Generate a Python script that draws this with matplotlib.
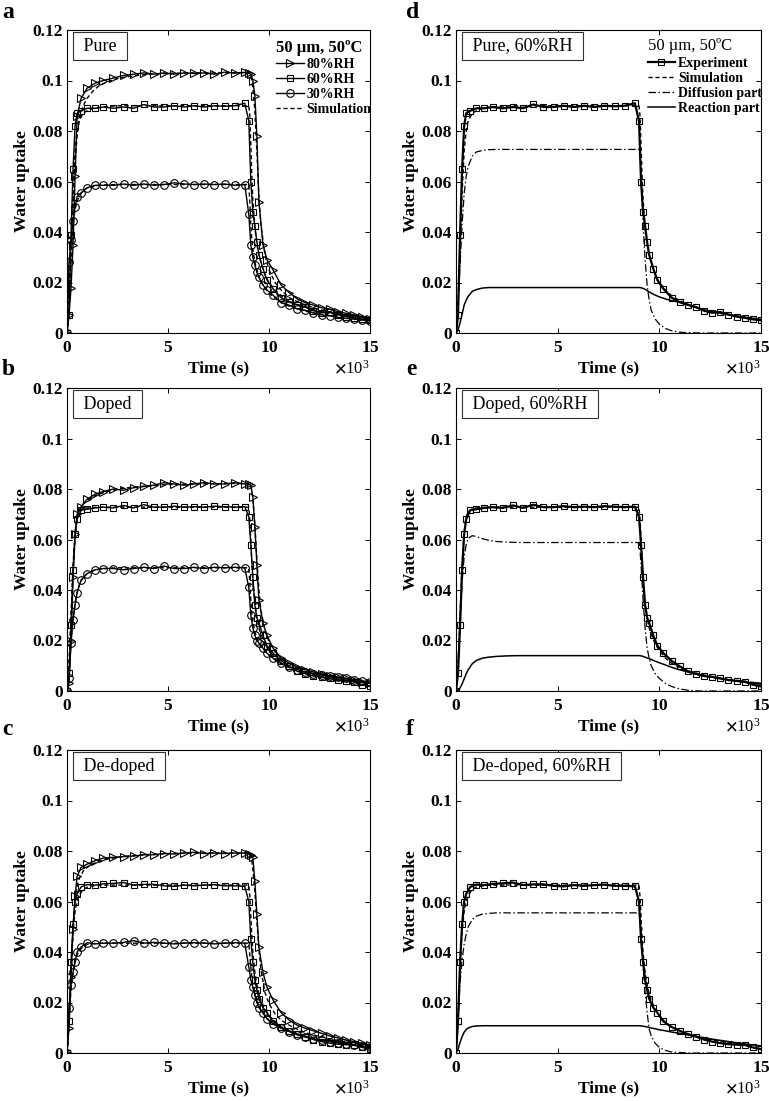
import matplotlib
matplotlib.use("Agg")
import matplotlib.pyplot as plt
from matplotlib.ticker import ScalarFormatter, FuncFormatter
import numpy as np

# ---------------- data (time in 10^3 s) ----------------
T_EXP = [0, 0.1, 0.2, 0.3, 0.4, 0.5, 0.7,
         1.0, 1.4, 1.8,
         2.3, 2.8, 3.3, 3.8, 4.3, 4.8, 5.3, 5.8, 6.3, 6.8, 7.3, 7.8, 8.3, 8.8,
         9.0, 9.1, 9.2, 9.3, 9.4, 9.5, 9.7, 9.9,
         10.2, 10.6, 11.0, 11.4, 11.8, 12.2, 12.6, 13.0, 13.4, 13.8, 14.2, 14.6, 15.0]

T_SIM = [0, 0.1, 0.2, 0.3, 0.4, 0.5, 0.6,
         0.8, 1.0, 1.3, 1.6,
         2.0, 2.5, 3.0,
         4.0, 5.0, 6.0, 7.0, 8.0, 9.0,
         9.05, 9.1, 9.15, 9.2,
         9.3, 9.4, 9.5, 9.6, 9.8,
         10.0, 10.3, 10.6,
         11.0, 11.5, 12.0, 12.5, 13.0, 13.5, 14.0, 14.5, 15.0]

# Pure
PURE_80 = [0.000, 0.007, 0.018, 0.035, 0.062, 0.086, 0.093,
           0.097, 0.099, 0.100,
           0.1010, 0.1020, 0.1025, 0.1030, 0.1025, 0.1030, 0.1025, 0.1030, 0.1028, 0.1030, 0.1025, 0.1033, 0.1030, 0.1032,
           0.1030, 0.1025, 0.1000, 0.0940, 0.0780, 0.0520, 0.0350, 0.0290,
           0.0250, 0.0190, 0.0160, 0.0135, 0.0120, 0.0110, 0.0100, 0.0095, 0.0085, 0.0078, 0.0072, 0.0065, 0.0055]
PURE_60 = [0.000, 0.007, 0.039, 0.065, 0.082, 0.087, 0.088,
           0.0890, 0.0890, 0.0895,
           0.0890, 0.0895, 0.0890, 0.0905, 0.0895, 0.0895, 0.0900, 0.0895, 0.0900, 0.0895, 0.0900, 0.0898, 0.0900, 0.0910,
           0.0840, 0.0600, 0.0480, 0.0424, 0.0360, 0.0310, 0.0255, 0.0210,
           0.0175, 0.0140, 0.0122, 0.0112, 0.0103, 0.0088, 0.0080, 0.0083, 0.0073, 0.0065, 0.0060, 0.0054, 0.0050]
PURE_30 = [0.000, 0.028, 0.037, 0.0445, 0.050, 0.054, 0.0555,
           0.0575, 0.0585, 0.0585,
           0.0585, 0.0590, 0.0585, 0.0590, 0.0585, 0.0588, 0.0595, 0.0590, 0.0588, 0.0590, 0.0588, 0.0590, 0.0585, 0.0588,
           0.0470, 0.0350, 0.0300, 0.0270, 0.0240, 0.0220, 0.0190, 0.0170,
           0.0150, 0.0120, 0.0110, 0.0095, 0.0090, 0.0080, 0.0072, 0.0068, 0.0062, 0.0058, 0.0055, 0.0052, 0.0048]
SIM_PURE_80 = [0.000, 0.012, 0.030, 0.050, 0.068, 0.078, 0.084,
               0.090, 0.093, 0.096, 0.098,
               0.0995, 0.1008, 0.1015,
               0.1025, 0.1028, 0.1030, 0.1030, 0.1030, 0.1030,
               0.1028, 0.1020, 0.1000, 0.0970,
               0.0880, 0.0720, 0.0540, 0.0430, 0.0310,
               0.0250, 0.0200, 0.0170,
               0.0140, 0.0120, 0.0105, 0.0093, 0.0083, 0.0075, 0.0068, 0.0062, 0.0057]
SIM_PURE_60 = [0.000, 0.012, 0.032, 0.055, 0.072, 0.080, 0.084,
               0.087, 0.088, 0.089, 0.0893,
               0.0897, 0.0900, 0.0900,
               0.0900, 0.0900, 0.0900, 0.0900, 0.0900, 0.0900,
               0.0860, 0.0750, 0.0620, 0.0530,
               0.0420, 0.0350, 0.0310, 0.0280, 0.0230,
               0.0200, 0.0170, 0.0148,
               0.0128, 0.0110, 0.0097, 0.0087, 0.0079, 0.0072, 0.0066, 0.0060, 0.0055]
SIM_PURE_30 = [0.000, 0.020, 0.034, 0.043, 0.049, 0.052, 0.054,
               0.0565, 0.0575, 0.0580, 0.0585,
               0.0587, 0.0588, 0.0588,
               0.0588, 0.0588, 0.0588, 0.0588, 0.0588, 0.0588,
               0.0520, 0.0430, 0.0370, 0.0330,
               0.0280, 0.0250, 0.0225, 0.0205, 0.0178,
               0.0158, 0.0137, 0.0121,
               0.0106, 0.0093, 0.0083, 0.0075, 0.0069, 0.0063, 0.0058, 0.0054, 0.0050]

# Doped
DOPED_80 = [0.000, 0.003, 0.020, 0.045, 0.062, 0.070, 0.073,
            0.076, 0.078, 0.079,
            0.0800, 0.0795, 0.0805, 0.0810, 0.0815, 0.0825, 0.0820, 0.0815, 0.0820, 0.0825, 0.0820, 0.0820, 0.0825, 0.0820,
            0.0820, 0.0815, 0.0770, 0.0650, 0.0500, 0.0360, 0.0270, 0.0220,
            0.0170, 0.0130, 0.0110, 0.0095, 0.0085, 0.0075, 0.0068, 0.0060, 0.0055, 0.0050, 0.0042, 0.0035, 0.0030]
DOPED_60 = [0.000, 0.007, 0.026, 0.048, 0.062, 0.068, 0.0716,
            0.0720, 0.0725, 0.0728,
            0.0725, 0.0735, 0.0725, 0.0738, 0.0728, 0.0728, 0.0732, 0.0728, 0.0730, 0.0728, 0.0732, 0.0730, 0.0728, 0.0730,
            0.0690, 0.0580, 0.0450, 0.0340, 0.0290, 0.0270, 0.0220, 0.0180,
            0.0150, 0.0120, 0.0098, 0.0078, 0.0068, 0.0059, 0.0056, 0.0050, 0.0043, 0.0040, 0.0037, 0.0025, 0.0018]
DOPED_30 = [0.000, 0.005, 0.019, 0.028, 0.034, 0.039, 0.044,
            0.0465, 0.0480, 0.0485,
            0.0485, 0.0480, 0.0485, 0.0490, 0.0485, 0.0495, 0.0485, 0.0485, 0.0490, 0.0485, 0.0490, 0.0488, 0.0490, 0.0488,
            0.0410, 0.0300, 0.0250, 0.0220, 0.0200, 0.0190, 0.0170, 0.0150,
            0.0130, 0.0110, 0.0095, 0.0085, 0.0075, 0.0068, 0.0065, 0.0060, 0.0055, 0.0050, 0.0045, 0.0040, 0.0035]
SIM_DOPED_80 = [0.000, 0.010, 0.028, 0.047, 0.061, 0.068, 0.071,
                0.074, 0.0755, 0.077, 0.078,
                0.0790, 0.0800, 0.0805,
                0.0812, 0.0818, 0.0820, 0.0820, 0.0822, 0.0822,
                0.0820, 0.0810, 0.0790, 0.0760,
                0.0660, 0.0520, 0.0400, 0.0320, 0.0240,
                0.0195, 0.0155, 0.0130,
                0.0110, 0.0092, 0.0078, 0.0067, 0.0058, 0.0050, 0.0044, 0.0038, 0.0033]
SIM_DOPED_60 = [0.000, 0.010, 0.030, 0.050, 0.063, 0.069, 0.071,
                0.0722, 0.0725, 0.0727, 0.0728,
                0.0728, 0.0728, 0.0728,
                0.0728, 0.0728, 0.0728, 0.0728, 0.0728, 0.0728,
                0.0680, 0.0600, 0.0510, 0.0440,
                0.0350, 0.0290, 0.0250, 0.0225, 0.0185,
                0.0160, 0.0130, 0.0110,
                0.0093, 0.0078, 0.0067, 0.0058, 0.0051, 0.0045, 0.0040, 0.0035, 0.0031]
SIM_DOPED_30 = [0.000, 0.009, 0.021, 0.029, 0.035, 0.039, 0.042,
                0.0450, 0.0465, 0.0477, 0.0483,
                0.0486, 0.0488, 0.0488,
                0.0488, 0.0488, 0.0488, 0.0488, 0.0488, 0.0488,
                0.0430, 0.0360, 0.0310, 0.0275,
                0.0235, 0.0210, 0.0193, 0.0180, 0.0158,
                0.0142, 0.0123, 0.0108,
                0.0093, 0.0079, 0.0069, 0.0060, 0.0054, 0.0048, 0.0043, 0.0038, 0.0034]

# De-doped
DEDOPED_80 = [0.000, 0.010, 0.030, 0.049, 0.062, 0.070, 0.0735,
              0.0748, 0.0762, 0.0772,
              0.0775, 0.0778, 0.0780, 0.0785, 0.0785, 0.0790, 0.0788, 0.0792, 0.0795, 0.0790, 0.0792, 0.0790, 0.0792, 0.0792,
              0.0790, 0.0785, 0.0776, 0.0680, 0.0550, 0.0420, 0.0320, 0.0260,
              0.0210, 0.0160, 0.0130, 0.0110, 0.0098, 0.0088, 0.0078, 0.0068, 0.0060, 0.0052, 0.0045, 0.0038, 0.0032]
DEDOPED_60 = [0.000, 0.0125, 0.036, 0.051, 0.060, 0.063, 0.0658,
              0.0667, 0.0665, 0.0670,
              0.0672, 0.0675, 0.0665, 0.0668, 0.0668, 0.0662, 0.0660, 0.0665, 0.0662, 0.0665, 0.0667, 0.0662, 0.0662, 0.0660,
              0.0600, 0.0450, 0.0360, 0.0290, 0.0250, 0.0215, 0.0180, 0.0160,
              0.0125, 0.0103, 0.0088, 0.0075, 0.0065, 0.0053, 0.0045, 0.0039, 0.0035, 0.0033, 0.0032, 0.0022, 0.0015]
DEDOPED_30 = [0.000, 0.018, 0.027, 0.032, 0.036, 0.040, 0.042,
              0.0437, 0.0432, 0.0435,
              0.0435, 0.0438, 0.0445, 0.0435, 0.0438, 0.0435, 0.0432, 0.0435, 0.0437, 0.0435, 0.0432, 0.0435, 0.0437, 0.0435,
              0.0340, 0.0290, 0.0260, 0.0230, 0.0200, 0.0180, 0.0160, 0.0135,
              0.0115, 0.0098, 0.0085, 0.0072, 0.0063, 0.0056, 0.0050, 0.0045, 0.0040, 0.0035, 0.0030, 0.0026, 0.0022]
SIM_DEDOPED_80 = [0.000, 0.012, 0.032, 0.049, 0.060, 0.066, 0.069,
                  0.0720, 0.0735, 0.0750, 0.0760,
                  0.0768, 0.0775, 0.0780,
                  0.0786, 0.0790, 0.0792, 0.0792, 0.0792, 0.0792,
                  0.0790, 0.0780, 0.0760, 0.0730,
                  0.0640, 0.0520, 0.0410, 0.0330, 0.0240,
                  0.0195, 0.0155, 0.0130,
                  0.0110, 0.0090, 0.0076, 0.0065, 0.0056, 0.0048, 0.0041, 0.0035, 0.0030]
SIM_DEDOPED_60 = [0.000, 0.014, 0.034, 0.048, 0.056, 0.060, 0.0625,
                  0.0647, 0.0657, 0.0662, 0.0664,
                  0.0665, 0.0665, 0.0665,
                  0.0665, 0.0665, 0.0665, 0.0665, 0.0665, 0.0665,
                  0.0620, 0.0540, 0.0460, 0.0400,
                  0.0320, 0.0270, 0.0235, 0.0210, 0.0172,
                  0.0148, 0.0122, 0.0104,
                  0.0088, 0.0073, 0.0062, 0.0053, 0.0046, 0.0040, 0.0035, 0.0030, 0.0026]
SIM_DEDOPED_30 = [0.000, 0.013, 0.025, 0.032, 0.036, 0.039, 0.0405,
                  0.0422, 0.0430, 0.0433, 0.0435,
                  0.0435, 0.0435, 0.0435,
                  0.0435, 0.0435, 0.0435, 0.0435, 0.0435, 0.0435,
                  0.0390, 0.0340, 0.0300, 0.0270,
                  0.0230, 0.0205, 0.0185, 0.0170, 0.0148,
                  0.0130, 0.0112, 0.0098,
                  0.0084, 0.0071, 0.0061, 0.0053, 0.0046, 0.0040, 0.0035, 0.0031, 0.0027]

# Diffusion / reaction parts (60%RH)
DIFF_PURE = [0.000, 0.010, 0.027, 0.043, 0.055, 0.062, 0.066,
             0.0700, 0.0717, 0.0723, 0.0726,
             0.0727, 0.0727, 0.0727,
             0.0727, 0.0727, 0.0727, 0.0727, 0.0727, 0.0727,
             0.0700, 0.0620, 0.0520, 0.0430,
             0.0290, 0.0190, 0.0130, 0.0090, 0.0055,
             0.0035, 0.0018, 0.0009,
             0.0003, 0.0001, 0.0000, 0.0000, 0.0000, 0.0000, 0.0000, 0.0000, 0.0000]
REACT_PURE = [0.000, 0.0012, 0.0040, 0.0075, 0.0110, 0.0130, 0.0145,
              0.0165, 0.0172, 0.0178, 0.0180,
              0.0180, 0.0180, 0.0180,
              0.0180, 0.0180, 0.0180, 0.0180, 0.0180, 0.0180,
              0.0180, 0.0179, 0.0178, 0.0177,
              0.0173, 0.0168, 0.0163, 0.0158, 0.0150,
              0.0143, 0.0135, 0.0128,
              0.0122, 0.0108, 0.0096, 0.0086, 0.0078, 0.0071, 0.0065, 0.0059, 0.0054]
DIFF_DOPED = [0.000, 0.010, 0.027, 0.043, 0.053, 0.058, 0.0605,
              0.0615, 0.0612, 0.0603, 0.0597,
              0.0592, 0.0590, 0.0588,
              0.0588, 0.0588, 0.0588, 0.0588, 0.0588, 0.0588,
              0.0560, 0.0500, 0.0430, 0.0360,
              0.0250, 0.0170, 0.0130, 0.0100, 0.0068,
              0.0050, 0.0030, 0.0018,
              0.0008, 0.0002, 0.0000, 0.0000, 0.0000, 0.0000, 0.0000, 0.0000, 0.0000]
REACT_DOPED = [0.000, 0.0003, 0.0012, 0.0028, 0.0048, 0.0068, 0.0084,
               0.0108, 0.0121, 0.0130, 0.0134,
               0.0137, 0.0139, 0.0140,
               0.0140, 0.0140, 0.0140, 0.0140, 0.0140, 0.0140,
               0.0140, 0.0139, 0.0138, 0.0137,
               0.0134, 0.0131, 0.0128, 0.0125, 0.0118,
               0.0112, 0.0103, 0.0094,
               0.0084, 0.0073, 0.0064, 0.0056, 0.0049, 0.0043, 0.0037, 0.0032, 0.0027]
DIFF_DEDOPED = [0.000, 0.013, 0.028, 0.037, 0.043, 0.047, 0.050,
                0.0528, 0.0542, 0.0550, 0.0553,
                0.0555, 0.0555, 0.0555,
                0.0555, 0.0555, 0.0555, 0.0555, 0.0555, 0.0555,
                0.0530, 0.0470, 0.0400, 0.0340,
                0.0240, 0.0160, 0.0095, 0.0068, 0.0038,
                0.0022, 0.0010, 0.0004,
                0.0002, 0.0000, 0.0000, 0.0000, 0.0000, 0.0000, 0.0000, 0.0000, 0.0000]
REACT_DEDOPED = [0.000, 0.0015, 0.0042, 0.0065, 0.0082, 0.0093, 0.0099,
                 0.0105, 0.0107, 0.0108, 0.0108,
                 0.0108, 0.0108, 0.0108,
                 0.0108, 0.0108, 0.0108, 0.0108, 0.0108, 0.0108,
                 0.0108, 0.0107, 0.0107, 0.0106,
                 0.0105, 0.0103, 0.0101, 0.0099, 0.0096,
                 0.0092, 0.0088, 0.0083,
                 0.0078, 0.0070, 0.0063, 0.0056, 0.0050, 0.0044, 0.0038, 0.0033, 0.0028]

X_TICKS = [0, 5000, 10000, 15000]
Y_TICKS = [0, 0.02, 0.04, 0.06, 0.08, 0.1, 0.12]
RH_LABELS = ["80%RH", "60%RH", "30%RH"]
PART_LABELS = ["Experiment", "Simulation", "Diffusion part", "Reaction part"]
CONDITION = "50 µm, 50ºC"

# ---------------- style ----------------
plt.rcParams["font.family"] = ["Liberation Serif", "DejaVu Serif"]
plt.rcParams["mathtext.fontset"] = "stix"
plt.rcParams["font.weight"] = "bold"
plt.rcParams["axes.labelweight"] = "bold"

DASH = (0, (3, 2))
DASHDOT = (0, (6, 2, 1.2, 2))
MK = dict(mfc="none", mec="black", mew=0.8)

fig = plt.figure(figsize=(7.69, 11.01), dpi=100)
W, H = 769.0, 1101.0


def make_ax(left, top, width=303, height=303):
    return fig.add_axes([left / W, 1 - (top + height) / H, width / W, height / H])


def style_ax(ax, label):
    ax.set_xlim(0, 15000)
    ax.set_ylim(0, 0.12)
    ax.set_xticks(X_TICKS)
    ax.set_yticks(Y_TICKS)
    fmt = ScalarFormatter(useMathText=True)
    fmt.set_powerlimits((3, 3))
    ax.xaxis.set_major_formatter(fmt)
    ax.yaxis.set_major_formatter(FuncFormatter(lambda v, p: "%g" % round(v, 4)))
    ax.tick_params(direction="in", top=True, right=True, length=3.5, width=0.7,
                   labelsize=12.5)
    ax.tick_params(axis="x", pad=5)
    ax.tick_params(axis="y", pad=3)
    ax.xaxis.get_offset_text().set_fontsize(12)
    ax.xaxis.get_offset_text().set_fontweight("normal")
    for s in ax.spines.values():
        s.set_linewidth(0.8)
    ax.set_xlabel("Time (s)", fontsize=12.5, fontweight="bold", labelpad=3)
    ax.set_ylabel("Water uptake", fontsize=12.5, fontweight="bold", labelpad=2)
    ax.text(0.04, 0.975, " " + label + " ", transform=ax.transAxes, ha="left", va="top",
            fontsize=13, fontweight="normal",
            bbox=dict(boxstyle="square,pad=0.32", fc="white", ec="#333333", lw=0.8))


def ts(t):
    return [v * 1000 for v in t]


left_panels = [
    ("Pure", PURE_80, PURE_60, PURE_30, SIM_PURE_80, SIM_PURE_60, SIM_PURE_30),
    ("Doped", DOPED_80, DOPED_60, DOPED_30, SIM_DOPED_80, SIM_DOPED_60, SIM_DOPED_30),
    ("De-doped", DEDOPED_80, DEDOPED_60, DEDOPED_30, SIM_DEDOPED_80, SIM_DEDOPED_60, SIM_DEDOPED_30),
]
right_panels = [
    ("Pure, 60%RH", PURE_60, SIM_PURE_60, DIFF_PURE, REACT_PURE),
    ("Doped, 60%RH", DOPED_60, SIM_DOPED_60, DIFF_DOPED, REACT_DOPED),
    ("De-doped, 60%RH", DEDOPED_60, SIM_DEDOPED_60, DIFF_DEDOPED, REACT_DEDOPED),
]
tops = [30, 388, 750]
letters_l = ["a", "b", "c"]
letters_r = ["d", "e", "f"]
baselines = [18, 375, 735]

for i, (lab, e80, e60, e30, s80, s60, s30) in enumerate(left_panels):
    ax = make_ax(67, tops[i])
    ls80, = ax.plot(ts(T_SIM), s80, color="black", ls=DASH, lw=1.0)
    ax.plot(ts(T_SIM), s60, color="black", ls=DASH, lw=1.0)
    ax.plot(ts(T_SIM), s30, color="black", ls=DASH, lw=1.0)
    l80, = ax.plot(ts(T_EXP), e80, color="black", lw=1.0, marker=">", ms=5.5, **MK)
    l60, = ax.plot(ts(T_EXP), e60, color="black", lw=1.0, marker="s", ms=4.5, **MK)
    l30, = ax.plot(ts(T_EXP), e30, color="black", lw=1.0, marker="o", ms=5.5, **MK)
    style_ax(ax, lab)
    if i == 0:
        ax.legend([l80, l60, l30, ls80], RH_LABELS + ["Simulation"],
                  loc="upper left", bbox_to_anchor=(0.69, 0.968), frameon=False,
                  title=CONDITION, alignment="left", fontsize=10,
                  title_fontproperties={"size": 12, "weight": "bold"},
                  handlelength=2.0, handletextpad=0.2, labelspacing=0.15,
                  borderpad=0, borderaxespad=0)
    fig.text(2 / W, 1 - baselines[i] / H, letters_l[i], fontsize=17, fontweight="bold",
             va="baseline", ha="left")

for i, (lab, e60, s60, dif, rea) in enumerate(right_panels):
    ax = make_ax(456, tops[i], width=305)
    lr, = ax.plot(ts(T_SIM), rea, color="black", lw=1.1)
    ld, = ax.plot(ts(T_SIM), dif, color="black", ls=DASHDOT, lw=0.9)
    ls_, = ax.plot(ts(T_SIM), s60, color="black", ls=DASH, lw=1.0)
    le, = ax.plot(ts(T_EXP), e60, color="black", lw=1.6, marker="s", ms=4.5, **MK)
    style_ax(ax, lab)
    if i == 0:
        ax.legend([le, ls_, ld, lr], PART_LABELS,
                  loc="upper left", bbox_to_anchor=(0.628, 0.972), frameon=False,
                  title=CONDITION, alignment="left", fontsize=10,
                  title_fontproperties={"size": 12, "weight": "normal"},
                  handlelength=2.0, handletextpad=0.2, labelspacing=0.15,
                  borderpad=0, borderaxespad=0)
    fig.text(406 / W, 1 - baselines[i] / H, letters_r[i], fontsize=17, fontweight="bold",
             va="baseline", ha="left")

fig.savefig("out.png", dpi=100)
